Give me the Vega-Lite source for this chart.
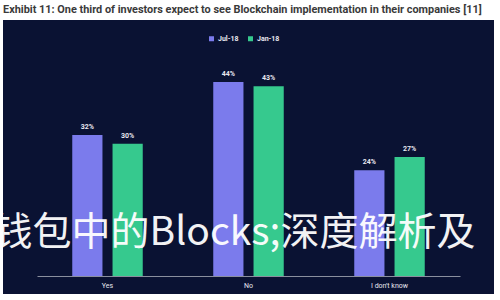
{
  "$schema": "https://vega.github.io/schema/vega-lite/v6.json",
  "width": 491,
  "height": 274,
  "autosize": {"type": "none"},
  "padding": {"left": 3, "top": 20, "right": 6, "bottom": 6},
  "background": "#ffffff",
  "title": {
    "text": "Exhibit 11: One third of investors expect to see Blockchain implementation in their companies [11]",
    "anchor": "start",
    "frame": "group",
    "font": "Roboto",
    "fontSize": 10.9,
    "fontWeight": "bold",
    "color": "#3a3a3a",
    "offset": 5
  },
  "config": {
    "view": {"fill": "#0a1233", "stroke": null}
  },
  "datasets": {
    "bars": [
      {"answer": "Yes", "period": "Jul-18", "share": 32, "label": "32%"},
      {"answer": "Yes", "period": "Jan-18", "share": 30, "label": "30%"},
      {"answer": "No", "period": "Jul-18", "share": 44, "label": "44%"},
      {"answer": "No", "period": "Jan-18", "share": 43, "label": "43%"},
      {"answer": "I don't know", "period": "Jul-18", "share": 24, "label": "24%"},
      {"answer": "I don't know", "period": "Jan-18", "share": 27, "label": "27%"}
    ],
    "overlay": [
      {"answer": "No", "share": 7, "label": "钱包中的Blocks;深度解析及"}
    ]
  },
  "layer": [
    {
      "data": {"name": "bars"},
      "mark": {"type": "bar"},
      "encoding": {
        "x": {
          "field": "answer",
          "type": "nominal",
          "sort": ["Yes", "No", "I don't know"],
          "scale": {"range": [34, 457], "paddingInner": 0.5, "paddingOuter": 0.25},
          "axis": {
            "title": null,
            "labelAngle": 0,
            "ticks": false,
            "offset": -18,
            "domainColor": "#8a8f9e",
            "domainWidth": 1,
            "labelColor": "#e8e8f0",
            "labelFont": "Roboto",
            "labelFontSize": 7,
            "labelPadding": 5
          }
        },
        "xOffset": {
          "field": "period",
          "type": "nominal",
          "sort": ["Jul-18", "Jan-18"],
          "scale": {"paddingInner": 0.25, "paddingOuter": 0}
        },
        "y": {
          "field": "share",
          "type": "quantitative",
          "scale": {"domain": [0, 50], "range": [256, 35.5]},
          "axis": null
        },
        "color": {
          "field": "period",
          "type": "nominal",
          "sort": ["Jul-18", "Jan-18"],
          "scale": {"domain": ["Jul-18", "Jan-18"], "range": ["#7b7bec", "#36c98e"]},
          "legend": {
            "title": null,
            "orient": "none",
            "direction": "horizontal",
            "legendX": 205,
            "legendY": 15,
            "symbolType": "square",
            "symbolSize": 25,
            "symbolStrokeWidth": 0,
            "labelColor": "#e8e8f0",
            "labelFont": "Roboto",
            "labelFontSize": 7,
            "labelFontWeight": "bold",
            "columnPadding": 8,
            "labelOffset": 3
          }
        }
      }
    },
    {
      "data": {"name": "bars"},
      "mark": {"type": "text", "baseline": "bottom", "dy": -5, "font": "Roboto", "fontSize": 7, "fontWeight": "bold", "color": "#e8e8f0"},
      "encoding": {
        "x": {"field": "answer", "type": "nominal", "sort": ["Yes", "No", "I don't know"]},
        "xOffset": {"field": "period", "type": "nominal", "sort": ["Jul-18", "Jan-18"]},
        "y": {"field": "share", "type": "quantitative"},
        "text": {"field": "label"}
      }
    },
    {
      "data": {"name": "overlay"},
      "mark": {"type": "text", "align": "center", "baseline": "alphabetic", "dx": -14, "font": "Noto Sans CJK SC", "fontSize": 39, "fontWeight": "normal", "color": "#ffffff", "opacity": 0.95},
      "encoding": {
        "x": {"field": "answer", "type": "nominal", "sort": ["Yes", "No", "I don't know"]},
        "y": {"field": "share", "type": "quantitative"},
        "text": {"field": "label"}
      }
    }
  ]
}
